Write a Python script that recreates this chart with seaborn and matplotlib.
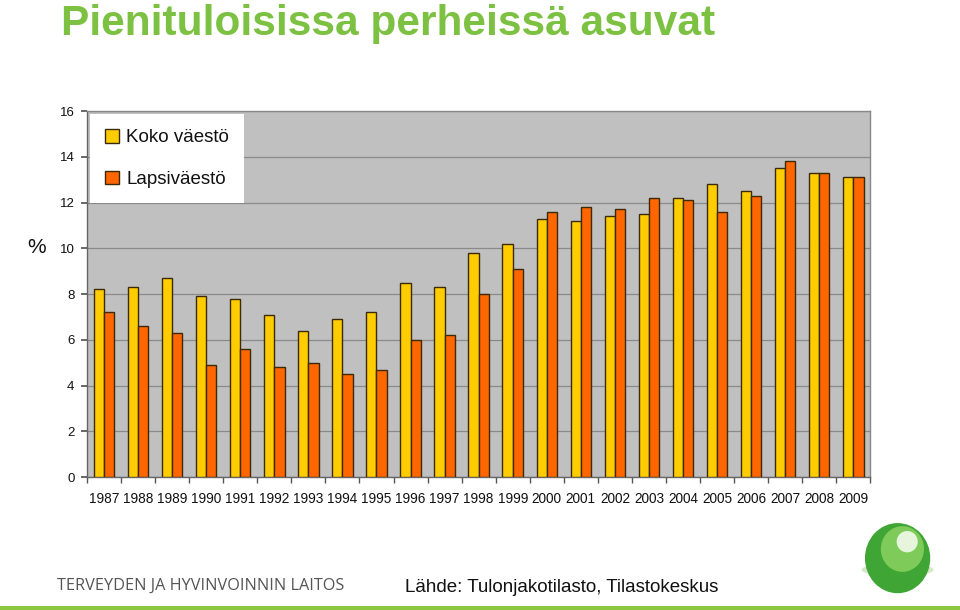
import matplotlib
matplotlib.use("Agg")
import matplotlib.pyplot as plt
import seaborn as sns
import pandas as pd
from matplotlib.patches import Ellipse, Rectangle
from matplotlib.ticker import FixedLocator

years = [str(y) for y in range(1987, 2010)]
koko = [8.2, 8.3, 8.7, 7.9, 7.8, 7.1, 6.4, 6.9, 7.2, 8.5, 8.3, 9.8, 10.2,
        11.3, 11.2, 11.4, 11.5, 12.2, 12.8, 12.5, 13.5, 13.3, 13.1]
lapsi = [7.2, 6.6, 6.3, 4.9, 5.6, 4.8, 5.0, 4.5, 4.7, 6.0, 6.2, 8.0, 9.1,
         11.6, 11.8, 11.7, 12.2, 12.1, 11.6, 12.3, 13.8, 13.3, 13.1]
series_names = ["Koko väestö", "Lapsiväestö"]
colors = ["#FFCC00", "#FF6600"]
yticks = [0, 2, 4, 6, 8, 10, 12, 14, 16]

df = pd.DataFrame({
    "Vuosi": years * 2,
    "Arvo": koko + lapsi,
    "Ryhmä": [series_names[0]] * len(years) + [series_names[1]] * len(years),
})

sns.set_theme(style="white")
plt.rcParams["font.family"] = ["Liberation Sans", "DejaVu Sans"]

fig = plt.figure(figsize=(9.6, 6.1), dpi=100)
ax = fig.add_axes([0.0906, 0.218, 0.816, 0.600])
ax.set_facecolor("#C0C0C0")

sns.barplot(data=df, x="Vuosi", y="Arvo", hue="Ryhmä", hue_order=series_names,
            palette=colors, width=0.6, edgecolor="#3B2A05", linewidth=1.0,
            ax=ax, errorbar=None, saturation=1, zorder=3)

ax.set_ylim(0, 16)
ax.set_xlim(-0.5, len(years) - 0.5)
ax.set_yticks(yticks)
ax.yaxis.grid(True, color="#8A8A8A", linewidth=0.9, zorder=0)
ax.set_axisbelow(True)
ax.set_xlabel("")
ax.set_ylabel("")
ax.tick_params(axis="y", labelsize=9.5, length=4, left=True, color="#555555", pad=5)
ax.tick_params(axis="x", which="major", labelsize=9.8, length=0, pad=11)
ax.xaxis.set_minor_locator(FixedLocator([i + 0.5 for i in range(-1, len(years))]))
ax.tick_params(axis="x", which="minor", length=4, bottom=True, color="#555555")
for lab in ax.get_xticklabels() + ax.get_yticklabels():
    lab.set_color("#111111")

for s in ["left", "bottom"]:
    ax.spines[s].set_color("#666666")
    ax.spines[s].set_linewidth(1.0)
for s in ["top", "right"]:
    ax.spines[s].set_color("#888888")
    ax.spines[s].set_linewidth(1.0)

leg = ax.legend(loc="upper left", frameon=True, fancybox=False, fontsize=13.5,
                handlelength=0.75, handleheight=0.75, handletextpad=0.4,
                labelspacing=1.3, borderpad=0.8, borderaxespad=0.15,
                facecolor="white", edgecolor="white", framealpha=1)
leg.get_frame().set_linewidth(0)
for t in leg.get_texts():
    t.set_color("#111111")

fig.text(0.038, 0.595, "%", fontsize=15, color="#111111", ha="center", va="center")

fig.text(0.064, 0.9426, "Pienituloisissa perheissä asuvat", fontsize=30.5,
         fontweight="bold", color="#7CC142", ha="left", va="baseline",
         family=["Liberation Sans Narrow", "Liberation Sans", "DejaVu Sans"])

fig.text(0.059, 0.040, "TERVEYDEN JA HYVINVOINNIN LAITOS", fontsize=11.7,
         color="#555555", ha="left", va="center",
         family=["Open Sans", "DejaVu Sans"])
fig.text(0.422, 0.037, "Lähde: Tulonjakotilasto, Tilastokeskus", fontsize=13.5,
         color="#111111", ha="left", va="center",
         family=["Liberation Sans Narrow", "Liberation Sans", "DejaVu Sans"])

# bottom green line
fig.patches.append(Rectangle((0, 0.0), 1, 0.006, transform=fig.transFigure,
                             facecolor="#8DC63F", edgecolor="none"))
# decorative logo sphere
fig.patches.append(Ellipse((0.935, 0.066), 0.075, 0.022, transform=fig.transFigure,
                           facecolor="#B8D8A0", edgecolor="none", alpha=0.6))
fig.patches.append(Ellipse((0.935, 0.085), 0.068, 0.115, transform=fig.transFigure,
                           facecolor="#3FA535", edgecolor="none"))
fig.patches.append(Ellipse((0.940, 0.100), 0.045, 0.075, transform=fig.transFigure,
                           facecolor="#7FCB5A", edgecolor="none"))
fig.patches.append(Ellipse((0.945, 0.112), 0.022, 0.035, transform=fig.transFigure,
                           facecolor="#E6F5DC", edgecolor="none"))

fig.savefig("out.png", dpi=100, facecolor="white")
